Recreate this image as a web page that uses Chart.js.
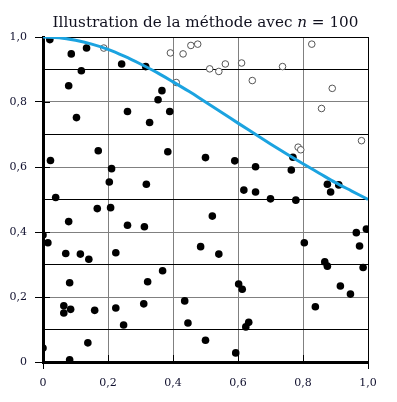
<!DOCTYPE html>
<html>
<head>
<meta charset="utf-8">
<script src="https://cdn.jsdelivr.net/npm/chart.js@4.4.0/dist/chart.umd.min.js"></script>
<style>
  html, body { margin: 0; padding: 0; background: #fff; }
  .wrap { position: relative; width: 397px; height: 402px; }
  #myChart { position: absolute; left: 0; top: 0; }
  .title {
    position: absolute; left: 43px; top: 15px; width: 325px;
    text-align: center; white-space: nowrap;
    font-family: "DejaVu Serif", serif; font-size: 15.2px; line-height: 15px;
    color: #10101e;
  }
</style>
</head>
<body>
<div class="wrap">
  <canvas id="myChart" width="397" height="402"></canvas>
  <div class="title">Illustration de la méthode avec <i>n</i> = 100</div>
</div>
<script>
// points under the curve (filled)
const insideX = [0.021, 0.087, 0.134, 0.118, 0.079, 0.103, 0.242, 0.316, 0.354, 0.366,
  0.260, 0.328, 0.390, 0.769, 0.500, 0.590, 0.654, 0.764, 0.618, 0.654,
  0.700, 0.778, 0.875, 0.885, 0.910, 0.521, 0.485, 0.541, 0.804, 0.964,
  0.995, 0.974, 0.867, 0.875, 0.985, 0.915, 0.946, 0.838, 0.602, 0.613,
  0.633, 0.624, 0.500, 0.593, 0.446, 0.141, 0.082, 0.064, 0.064, 0.085,
  0.159, 0.224, 0.248, 0.310, 0.322, 0.368, 0.436, 0.138, 0.082, 0.000,
  0.023, 0.170, 0.384, 0.211, 0.204, 0.318, 0.039, 0.167, 0.208, 0.079,
  0.260, 0.312, 0.000, 0.015, 0.070, 0.115, 0.224];
const insideY = [0.992, 0.948, 0.966, 0.896, 0.850, 0.752, 0.917, 0.909, 0.807, 0.835,
  0.771, 0.737, 0.771, 0.630, 0.629, 0.619, 0.601, 0.591, 0.529, 0.523,
  0.502, 0.498, 0.547, 0.523, 0.545, 0.449, 0.355, 0.332, 0.367, 0.398,
  0.409, 0.357, 0.308, 0.295, 0.291, 0.234, 0.209, 0.170, 0.240, 0.224,
  0.122, 0.108, 0.067, 0.028, 0.120, 0.316, 0.244, 0.173, 0.151, 0.162,
  0.159, 0.166, 0.114, 0.179, 0.247, 0.281, 0.188, 0.059, 0.007, 0.043,
  0.620, 0.650, 0.647, 0.595, 0.554, 0.547, 0.506, 0.472, 0.475, 0.432,
  0.421, 0.416, 0.391, 0.367, 0.334, 0.332, 0.336];

// points above the curve (hollow)
const outsideX = [0.187, 0.392, 0.431, 0.455, 0.476, 0.410, 0.513, 0.541, 0.561, 0.611,
  0.644, 0.737, 0.827, 0.890, 0.857, 0.980, 0.785, 0.793];
const outsideY = [0.966, 0.951, 0.948, 0.974, 0.978, 0.860, 0.902, 0.894, 0.917, 0.920,
  0.866, 0.909, 0.978, 0.842, 0.780, 0.681, 0.661, 0.653];

// the curve
const curveX = [0, 0.05, 0.1, 0.15, 0.2, 0.25, 0.3, 0.35, 0.4, 0.45, 0.5,
  0.55, 0.6, 0.65, 0.7, 0.75, 0.8, 0.85, 0.9, 0.95, 1];
const curveY = [1.000, 0.998, 0.990, 0.978, 0.962, 0.941, 0.917, 0.891, 0.862, 0.832, 0.800,
  0.768, 0.735, 0.703, 0.671, 0.640, 0.610, 0.581, 0.552, 0.526, 0.500];

const toPoints = (xs, ys) => xs.map((x, i) => ({ x: x, y: ys[i] }));
const fmt = v => (Math.abs(v) < 1e-9 ? '0' : v.toFixed(1).replace('.', ','));
const tenth = v => Math.round(v * 10);

const labelFont = { family: 'DejaVu Serif', size: 11 };
const labelColor = '#10102e';

// short black ticks inside the plot at the labelled values
const innerTicks = {
  id: 'innerTicks',
  beforeDatasetsDraw(chart) {
    const { ctx, chartArea, scales } = chart;
    ctx.save();
    ctx.strokeStyle = '#000';
    ctx.lineWidth = 1;
    [0.2, 0.4, 0.6, 0.8].forEach(v => {
      const py = Math.round(scales.y.getPixelForValue(v)) + 0.5;
      ctx.beginPath();
      ctx.moveTo(chartArea.left, py);
      ctx.lineTo(chartArea.left + 7, py);
      ctx.stroke();
      const px = Math.round(scales.x.getPixelForValue(v)) + 0.5;
      ctx.beginPath();
      ctx.moveTo(px, chartArea.bottom);
      ctx.lineTo(px, chartArea.bottom - 7);
      ctx.stroke();
    });
    ctx.restore();
  }
};

const ctx = document.getElementById('myChart').getContext('2d');

const chart = new Chart(ctx, {
  type: 'scatter',
  data: {
    datasets: [
      {
        data: toPoints(curveX, curveY),
        showLine: true,
        borderColor: '#1ba3e0',
        borderWidth: 3,
        pointRadius: 0,
        cubicInterpolationMode: 'monotone',
        order: 0
      },
      {
        data: toPoints(outsideX, outsideY),
        pointRadius: 3.3,
        pointBackgroundColor: '#fff',
        pointBorderColor: '#555',
        pointBorderWidth: 1,
        clip: 0,
        order: 1
      },
      {
        data: toPoints(insideX, insideY),
        pointRadius: 3.8,
        pointBackgroundColor: '#000',
        pointBorderColor: '#000',
        pointBorderWidth: 0,
        clip: 0,
        order: 2
      }
    ]
  },
  options: {
    responsive: false,
    animation: false,
    layout: { padding: { top: 37, right: 29, left: 0, bottom: 0 } },
    plugins: {
      legend: { display: false },
      tooltip: { enabled: false }
    },
    scales: {
      x: {
        type: 'linear',
        min: 0,
        max: 1,
        afterFit: s => { s.height = 40; },
        ticks: {
          stepSize: 0.2,
          autoSkip: false,
          maxRotation: 0,
          padding: 8,
          font: labelFont,
          color: labelColor,
          callback: v => fmt(v)
        },
        grid: {
          color: c => (c.tick && tenth(c.tick.value) === 10 ? '#000' : '#808080'),
          lineWidth: 1,
          tickLength: 7,
          tickColor: c => (c.tick && (tenth(c.tick.value) === 0 || tenth(c.tick.value) === 10) ? '#000' : 'rgba(0,0,0,0)')
        },
        border: { color: '#000', width: 3 }
      },
      y: {
        type: 'linear',
        min: 0,
        max: 1,
        afterFit: s => { s.width = 43; },
        ticks: {
          stepSize: 0.1,
          autoSkip: false,
          padding: 8,
          font: labelFont,
          color: labelColor,
          callback: v => (tenth(v) % 2 === 0 ? fmt(v) : '')
        },
        grid: {
          color: c => {
            const k = c.tick ? tenth(c.tick.value) : 0;
            return (k % 2 === 1 || k === 10) ? '#000' : '#808080';
          },
          lineWidth: 1,
          tickLength: 8,
          tickColor: c => (c.tick && tenth(c.tick.value) % 2 === 0 ? '#000' : 'rgba(0,0,0,0)')
        },
        border: { color: '#000', width: 3 }
      }
    }
  },
  plugins: [innerTicks]
});
</script>
</body>
</html>
